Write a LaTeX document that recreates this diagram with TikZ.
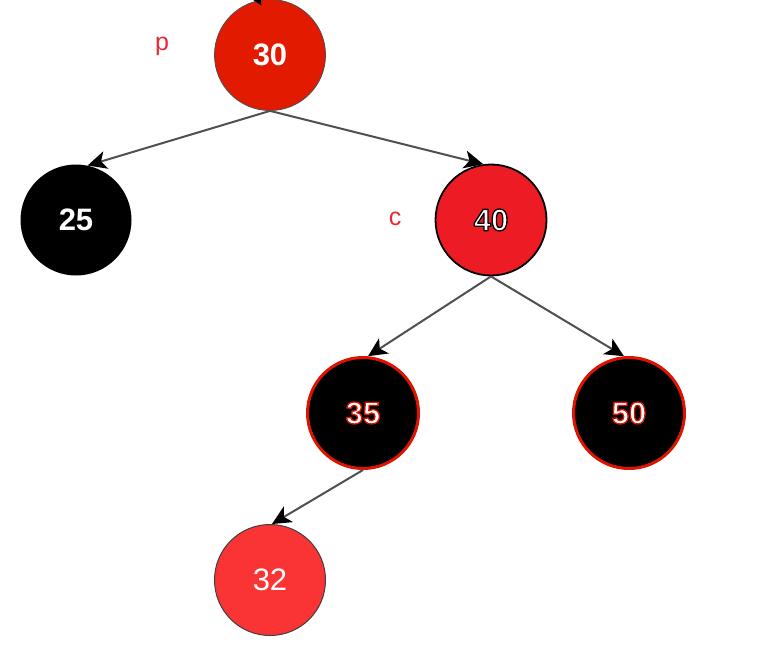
\documentclass[tikz,border=0pt]{standalone}
\usepackage{fontspec}
\setmainfont{Liberation Sans}
\usetikzlibrary{arrows.meta}
\definecolor{redA}{RGB}{226,26,0}
\definecolor{redB}{RGB}{237,28,36}
\definecolor{redC}{RGB}{250,52,52}
\definecolor{redRing}{RGB}{222,20,0}
\definecolor{labelred}{RGB}{232,40,50}
\definecolor{edgegray}{RGB}{80,80,80}
\newcommand{\outlinedtext}[2]{\special{pdf:literal #1 RG 2 Tr 1.3 w 1 j}#2\special{pdf:literal 0 Tr}}
\tikzset{
  tnode/.style={circle, minimum size=111pt, inner sep=0pt, font=\fontsize{31}{34}\selectfont\bfseries, text=white},
  edge/.style={draw=edgegray, line width=2pt, -{Stealth[length=19pt,width=18pt,inset=5pt,black]}},
  lbl/.style={text=labelred, font=\fontsize{25}{28}\selectfont}
}
\begin{document}
\begin{tikzpicture}[x=1pt,y=-1pt]
\useasboundingbox (0,0) rectangle (759,648);
\node[tnode, fill=redA, draw=black!70, line width=0.8pt] (n30) at (270,55) {30};
\node[tnode, fill=black] (n25) at (76,220) {25};
\node[tnode, fill=redB, draw=black, line width=1.8pt] (n40) at (491,220) {\outlinedtext{0 0 0}{40}};
\node[tnode, fill=black, draw=redRing, line width=3pt] (n35) at (363,413) {\outlinedtext{0.87 0.08 0}{35}};
\node[tnode, fill=black, draw=redRing, line width=3pt] (n50) at (629,413) {\outlinedtext{0.87 0.08 0}{50}};
\node[tnode, fill=redC, draw=black!75, line width=1pt] (n32) at (270,580) {\fontseries{m}\selectfont 32};
\node[lbl] (lp) at (162,46) {p};
\node[lbl] (lc) at (395,219) {c};
\coordinate (top) at (235,-40);
\draw[edge, shorten >=-6pt] (top) -- (n30.102);
\draw[edge] (n30.south) -- (n25.78);
\draw[edge] (n30.south) -- (n40.98);
\draw[edge] (n40.south) -- (n35.85);
\draw[edge] (n40.south) -- (n50.95);
\draw[edge] (n35.south) -- (n32.88);
\end{tikzpicture}
\end{document}
